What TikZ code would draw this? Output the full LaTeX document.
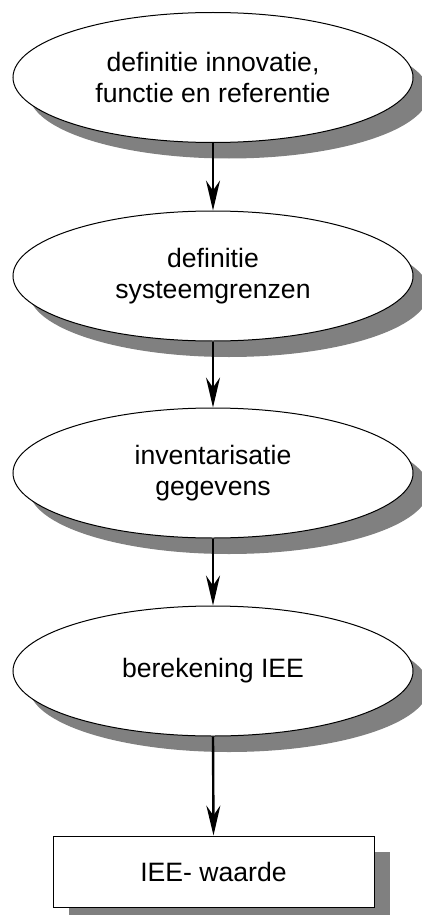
\documentclass[tikz,border=0pt]{standalone}
\usepackage{fontspec}
\setmainfont{Liberation Sans}
\usetikzlibrary{arrows.meta,shapes.geometric}

\tikzset{
  stage/.style={ellipse, draw=black, line width=1pt, fill=white,
    minimum width=400pt, minimum height=130pt, inner sep=0pt,
    align=center, font=\fontsize{26.6}{31.5}\selectfont},
  result/.style={rectangle, draw=black, line width=1pt, fill=white,
    minimum width=321pt, minimum height=71pt, inner sep=0pt,
    font=\fontsize{26.6}{31.5}\selectfont},
  flow/.style={line width=2.4pt,
    -{Stealth[length=30pt, width=14pt, inset=10pt]}},
  shadowfill/.style={fill=black!50, draw=none}
}

\begin{document}
\begin{tikzpicture}[x=1pt, y=-1pt]
  \useasboundingbox (0,0) rectangle (422,915);
  \begin{scope}
    \clip (0,0) rectangle (422,915);
    % drop shadows, offset down and to the right
    \foreach \cy in {77.5,276,473,671}
      \fill[shadowfill] (229,\cy+16) ellipse [x radius=200pt, y radius=65pt];
    \fill[shadowfill] (69,852) rectangle (390,923);
  \end{scope}

  \node[stage] (s1) at (213,77.5) {definitie innovatie,\\functie en referentie};
  \node[stage] (s2) at (213,276) {definitie\\systeemgrenzen};
  \node[stage] (s3) at (213,473) {inventarisatie\\gegevens};
  \node[stage] (s4) at (213,671) {berekening IEE};
  \node[result] (r) at (213.5,871.5) {IEE- waarde};

  \draw[flow] (s1.south) -- (s2.north);
  \draw[flow] (s2.south) -- (s3.north);
  \draw[flow] (s3.south) -- (s4.north);
  \draw[flow] (s4.south) -- (r.north);
\end{tikzpicture}
\end{document}
